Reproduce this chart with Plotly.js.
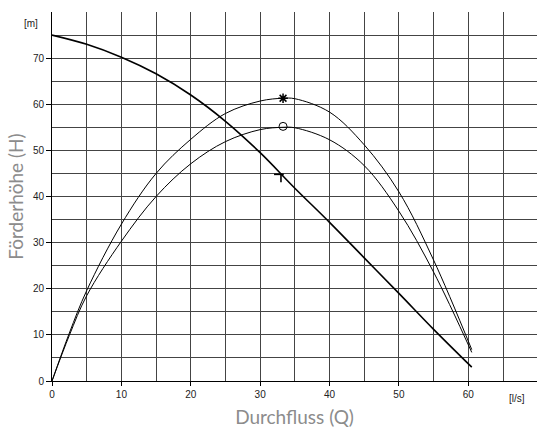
<!DOCTYPE html>
<html>
<head>
<meta charset="utf-8">
<script src="https://cdn.plot.ly/plotly-3.0.1.min.js"></script>
<style>html,body{margin:0;padding:0;overflow:hidden;background:#fff}</style>
</head>
<body>
<div id="chart" style="width:537px;height:428px"></div>
<script>
// System / head curve
const sysQ = [0, 5, 10, 15, 20, 25, 30, 35, 40, 45, 50, 55, 60.5];
const sysH = [75, 73.0, 70.2, 66.6, 62.0, 56.3, 49.5, 41.8, 34.4, 26.7, 19.0, 11.2, 3.0];

// Pump curves
const pumpQ = [0, 2.5, 5, 10, 15, 20, 25, 30, 33.3, 35, 40, 45, 50, 55, 60.5];
const pumpUpperH = [0, 10.4, 19.6, 34, 45, 52.4, 58, 60.7, 61.3, 61.2, 58.3, 51.2, 41, 26.2, 6.8];
const pumpLowerH = [0, 9.9, 18.5, 30.3, 40, 47.1, 51.9, 54.5, 55, 54.9, 52.3, 46.7, 36.8, 23.6, 6.2];

// Marked points
const starQ = [33.3], starH = [61.3];
const circQ = [33.3], circH = [55.2];
const opBarQ = [32.0, 33.4], opBarH = [44.8, 44.8];
const opStemQ = [33.0, 33.0], opStemH = [44.8, 43.1];

// Axis ticks
const xTicks = [0, 10, 20, 30, 40, 50, 60];
const yTicks = [0, 10, 20, 30, 40, 50, 60, 70];

const traces = [
  {x: sysQ, y: sysH, mode: 'lines', line: {color: '#000', width: 1.6, shape: 'spline', smoothing: 1}, hoverinfo: 'skip'},
  {x: pumpQ, y: pumpUpperH, mode: 'lines', line: {color: '#000', width: 1, shape: 'spline', smoothing: 1}, hoverinfo: 'skip'},
  {x: pumpQ, y: pumpLowerH, mode: 'lines', line: {color: '#000', width: 1, shape: 'spline', smoothing: 1}, hoverinfo: 'skip'},
  {x: starQ, y: starH, mode: 'markers', marker: {symbol: 'asterisk-open', size: 8, color: '#000', line: {color: '#000', width: 1.5}}},
  {x: circQ, y: circH, mode: 'markers', marker: {symbol: 'circle-open', size: 8, color: '#000', line: {color: '#000', width: 1}}},
  {x: opBarQ, y: opBarH, mode: 'lines', line: {color: '#000', width: 1.6}},
  {x: opStemQ, y: opStemH, mode: 'lines', line: {color: '#000', width: 1.6}}
];

const tickFont = {family: 'Liberation Sans, Arial, sans-serif', size: 10, color: '#222'};
const titleFont = {family: 'Lato, sans-serif', size: 19, color: '#8c8c8c'};

const layout = {
  width: 537, height: 428,
  margin: {l: 52, r: 0, t: 12, b: 47},
  showlegend: false,
  paper_bgcolor: '#fff', plot_bgcolor: '#fff',
  xaxis: {
    range: [0, 69.9],
    tickvals: xTicks,
    ticks: 'outside', ticklen: 4, tickcolor: '#000',
    showline: true, linecolor: '#000', linewidth: 1,
    showgrid: true, gridcolor: '#444', gridwidth: 1,
    minor: {dtick: 5, tick0: 0, showgrid: true, gridcolor: '#444', gridwidth: 1},
    zeroline: false,
    tickfont: tickFont,
    title: {text: 'Durchfluss (Q)', font: titleFont, standoff: 17}
  },
  yaxis: {
    range: [0, 80],
    tickvals: yTicks,
    ticks: 'outside', ticklen: 5, tickcolor: '#000',
    showline: true, linecolor: '#000', linewidth: 1,
    showgrid: true, gridcolor: '#444', gridwidth: 1,
    minor: {dtick: 5, tick0: 0, showgrid: true, gridcolor: '#444', gridwidth: 1},
    zeroline: false,
    tickfont: tickFont,
    title: {text: 'Förderhöhe (H)', font: titleFont, standoff: 4}
  },
  annotations: [
    {text: '[m]', xref: 'paper', x: -0.025, xanchor: 'right', yref: 'y', y: 77.5, yanchor: 'middle', showarrow: false, font: tickFont},
    {text: '[l/s]', xref: 'x', x: 67, xanchor: 'center', yref: 'paper', y: -0.048, yanchor: 'middle', showarrow: false, font: tickFont}
  ]
};

Plotly.newPlot('chart', traces, layout, {displayModeBar: false, staticPlot: true});
</script>
</body>
</html>
